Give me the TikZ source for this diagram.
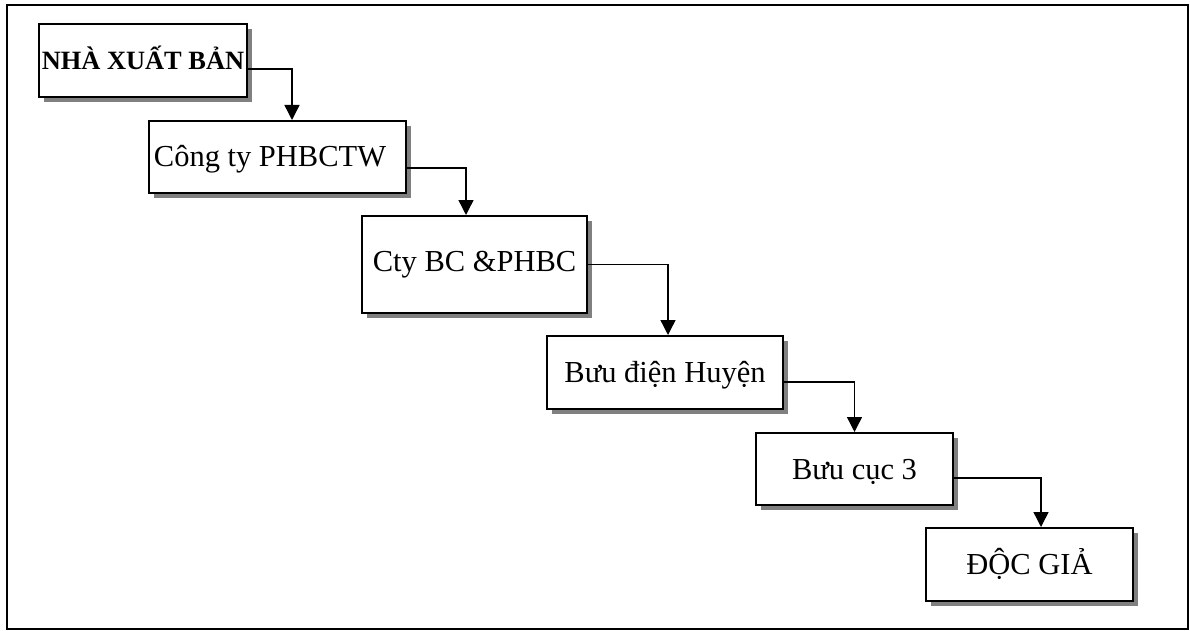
\documentclass[tikz,border=0pt]{standalone}
\usepackage{fontspec}
\setmainfont{Liberation Serif}
\usetikzlibrary{arrows.meta,shadows}

\tikzset{
  stage/.style={draw=black, line width=2pt, fill=white, rectangle,
    inner sep=0pt, text height=20pt, text depth=0pt,
    font=\fontsize{30.5}{34}\selectfont,
    drop shadow={shadow xshift=5pt, shadow yshift=-5pt, fill=black!50, opacity=1}},
  flow/.style={draw=black, line width=1.4pt, -{Triangle[width=15pt,length=15pt]}}
}

\begin{document}
\begin{tikzpicture}[x=1pt, y=-1pt]
  \useasboundingbox (0,0) rectangle (1190,631);
  % outer frame
  \draw[line width=2pt] (7,5) rectangle (1188,629);

  % distribution chain
  \node[stage, minimum width=208pt, minimum height=73pt,
        font=\fontsize{26.4}{30}\selectfont\bfseries, text height=18pt]
        (b1) at (143,60.5) {NHÀ XUẤT BẢN};
  \node[stage, minimum width=257pt, minimum height=72pt]
        (b2) at (277.5,157) {Công ty PHBCTW\hspace*{15pt}};
  \node[stage, minimum width=225pt, minimum height=97pt, text depth=7pt]
        (b3) at (474.5,264.5) {Cty BC \&PHBC};
  \node[stage, minimum width=236pt, minimum height=73pt]
        (b4) at (665,372.5) {Bưu điện Huyện};
  \node[stage, minimum width=197pt, minimum height=72pt]
        (b5) at (854.5,469) {Bưu cục 3};
  \node[stage, minimum width=207pt, minimum height=73pt]
        (b6) at (1029.5,564.5) {ĐỘC GIẢ};

  % connectors
  \draw[flow] ([yshift=-8.5pt]b1.east) -| ([xshift=14.5pt]b2.north);
  \draw[flow] ([yshift=-11pt]b2.east) -| ([xshift=-8.5pt]b3.north);
  \draw[flow] (b3.east) -| ([xshift=3pt]b4.north);
  \draw[flow] ([yshift=-9.5pt]b4.east) -| (b5.north);
  \draw[flow] ([yshift=-9pt]b5.east) -| ([xshift=11.5pt]b6.north);
\end{tikzpicture}
\end{document}
